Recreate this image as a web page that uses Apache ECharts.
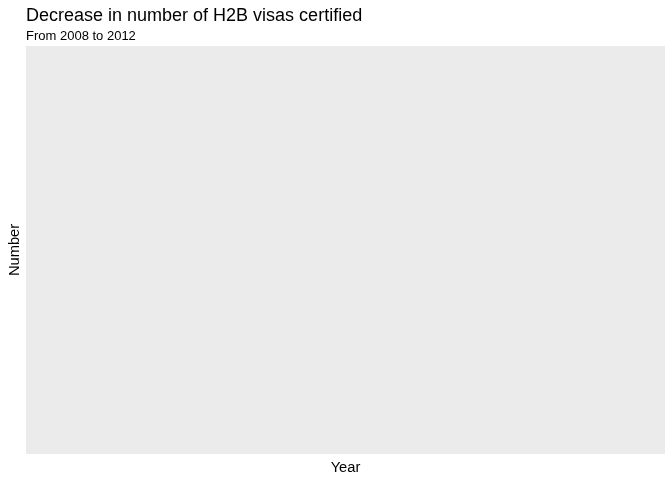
<!DOCTYPE html>
<html><head><meta charset="utf-8">
<script src="https://cdn.jsdelivr.net/npm/echarts@6/dist/echarts.min.js"></script>
<style>html,body{margin:0;padding:0;background:#fff}#c{width:672px;height:480px}</style>
</head><body><div id="c"></div>
<script>
// The reference panel is empty: no marks are drawn.
const years = [];
const numbers = [];
const titleText = 'Decrease in number of H2B visas certified';
const subtitleText = 'From 2008 to 2012';
const xName = 'Year';
const yName = 'Number';

const chart = echarts.init(document.getElementById('c'), null, {renderer: 'canvas'});
const font = '"Liberation Sans", Arial, Helvetica, sans-serif';
chart.setOption({
  animation: false,
  backgroundColor: '#ffffff',
  title: {
    text: titleText,
    subtext: subtitleText,
    left: 21,
    top: 2,
    itemGap: 5,
    textStyle: {fontFamily: font, fontSize: 18, fontWeight: 'normal', color: '#000'},
    subtextStyle: {fontFamily: font, fontSize: 13, color: '#000'}
  },
  grid: {left: 26, right: 7, top: 46, bottom: 26, show: true, backgroundColor: '#EBEBEB', borderWidth: 0,
         outerBoundsMode: 'none', containLabel: false},
  xAxis: {
    type: 'category', data: years,
    name: xName, nameLocation: 'middle', nameGap: 6,
    nameTextStyle: {fontFamily: font, fontSize: 14.7, color: '#000'},
    axisLine: {show: false}, axisTick: {show: false}, axisLabel: {show: false}, splitLine: {show: false}
  },
  yAxis: {
    type: 'value',
    name: yName, nameLocation: 'middle', nameGap: 4,
    nameTextStyle: {fontFamily: font, fontSize: 14.7, color: '#000'},
    axisLine: {show: false}, axisTick: {show: false}, axisLabel: {show: false}, splitLine: {show: false}
  },
  series: [{type: 'line', data: numbers, showSymbol: false}]
});
</script></body></html>
